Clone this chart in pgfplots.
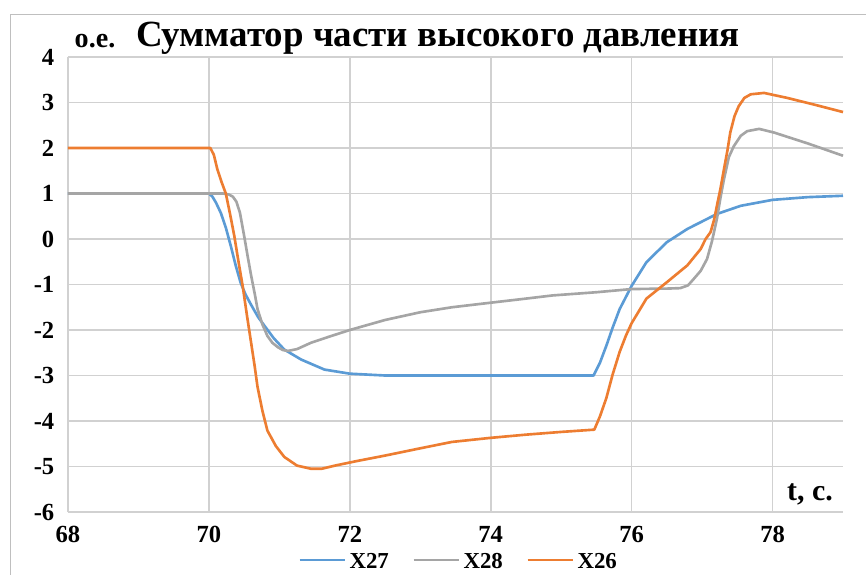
\documentclass[border=0pt]{standalone}
\usepackage{fontspec}
\setmainfont{Liberation Serif}
\usepackage{pgfplots}
\pgfplotsset{compat=1.18}

\definecolor{cblue}{HTML}{5B9BD5}
\definecolor{cgray}{HTML}{A5A5A5}
\definecolor{corange}{HTML}{ED7D31}

\begin{document}
\begin{tikzpicture}
\useasboundingbox (-13.6mm,-12.4mm) rectangle (159.6mm,102.4mm);
\draw[black!25, line width=0.5pt] (-11.6mm,-14mm) rectangle (162mm,99.6mm);
\begin{axis}[
    at={(0,0)}, anchor=south west,
    scale only axis,
    width=155mm, height=91mm,
    xmin=68, xmax=79, ymin=-6, ymax=4,
    xtick={68,70,...,78}, ytick={-6,-5,...,4},
    axis line style={draw=none},
    major tick length=0pt,
    grid=major, grid style={black!18, line width=0.9pt},
    /pgf/number format/assume math mode=true,
    ticklabel style={font=\fontsize{14}{16}\selectfont\bfseries},
    xticklabel style={yshift=-1.6mm},
    yticklabel style={xshift=-1.5mm},
    legend style={at={(0.505,-0.082)}, anchor=north, draw=none, fill=none,
        legend columns=-1, font=\fontsize{13}{15}\selectfont\bfseries,
        inner sep=0pt,
        /tikz/every even column/.append style={column sep=4mm}},
    legend image code/.code={\draw[#1] (0mm,0.4mm) -- (9mm,0.4mm);},
    every axis plot/.append style={line width=1.5pt, line join=round},
    clip=false,
]
\addplot[cblue] coordinates {
(68,1) (70,1) (70.05,0.93) (70.1,0.8) (70.17,0.57) (70.24,0.25) (70.31,-0.15) (70.38,-0.58)
(70.45,-0.96) (70.52,-1.22) (70.6,-1.45) (70.7,-1.72) (70.79,-1.91) (70.92,-2.18)
(71.07,-2.43) (71.31,-2.65) (71.64,-2.87) (72,-2.96) (72.5,-3.0) (75.46,-3.0)
(75.55,-2.72) (75.64,-2.35) (75.73,-1.95) (75.83,-1.54) (76,-1.03) (76.21,-0.51)
(76.5,-0.07) (76.79,0.22) (77.21,0.55) (77.55,0.73) (78,0.86) (78.5,0.92) (79,0.95)
};
\addlegendentry{X27}
\addplot[cgray] coordinates {
(68,1) (70.2,1) (70.28,0.98) (70.34,0.93) (70.39,0.82) (70.44,0.58) (70.5,0.07)
(70.55,-0.38) (70.6,-0.81) (70.65,-1.2) (70.69,-1.54) (70.76,-1.88) (70.83,-2.13)
(70.9,-2.28) (70.98,-2.38) (71.05,-2.44) (71.12,-2.46) (71.25,-2.42) (71.45,-2.28)
(71.7,-2.15) (72,-2.0) (72.5,-1.78) (73,-1.61) (73.45,-1.5) (74,-1.4) (74.5,-1.31)
(74.88,-1.24) (75.5,-1.17) (76,-1.1) (76.5,-1.09) (76.69,-1.08) (76.8,-1.02)
(76.88,-0.88) (76.98,-0.7) (77.07,-0.44) (77.14,-0.05) (77.21,0.44) (77.26,0.9)
(77.31,1.31) (77.38,1.8) (77.45,2.04) (77.55,2.27) (77.64,2.37) (77.81,2.42)
(78.02,2.34) (78.5,2.1) (79,1.83)
};
\addlegendentry{X28}
\addplot[corange] coordinates {
(68,2) (70.02,2) (70.07,1.85) (70.12,1.53) (70.18,1.25) (70.24,1.0) (70.3,0.55)
(70.36,0.07) (70.42,-0.5) (70.48,-1.04) (70.54,-1.68) (70.6,-2.29) (70.65,-2.8)
(70.69,-3.25) (70.76,-3.78) (70.83,-4.21) (70.95,-4.55) (71.07,-4.79) (71.25,-4.98)
(71.45,-5.05) (71.6,-5.05) (71.79,-4.98) (72.1,-4.88) (72.5,-4.76) (73,-4.6)
(73.45,-4.46) (74,-4.37) (74.5,-4.3) (75,-4.24) (75.47,-4.19) (75.55,-3.9)
(75.64,-3.5) (75.73,-2.98) (75.83,-2.48) (75.92,-2.12) (76,-1.85) (76.21,-1.31)
(76.5,-0.95) (76.79,-0.58) (76.98,-0.22) (77.05,0) (77.12,0.15) (77.17,0.42)
(77.21,0.73) (77.26,1.1) (77.31,1.53) (77.36,1.95) (77.4,2.34) (77.46,2.7)
(77.52,2.92) (77.6,3.1) (77.69,3.18) (77.88,3.21) (78.21,3.1) (78.6,2.95) (79,2.79)
};
\addlegendentry{X26}
\end{axis}
\node[font=\fontsize{21}{24}\selectfont\bfseries] at (74mm,94.8mm) {Сумматор части высокого давления};
\node[font=\fontsize{16}{18}\selectfont\bfseries] at (5.4mm,94.2mm) {о.е.};
\node[font=\fontsize{17}{19}\selectfont\bfseries] at (148.4mm,3.6mm) {t, c.};
\end{tikzpicture}
\end{document}
